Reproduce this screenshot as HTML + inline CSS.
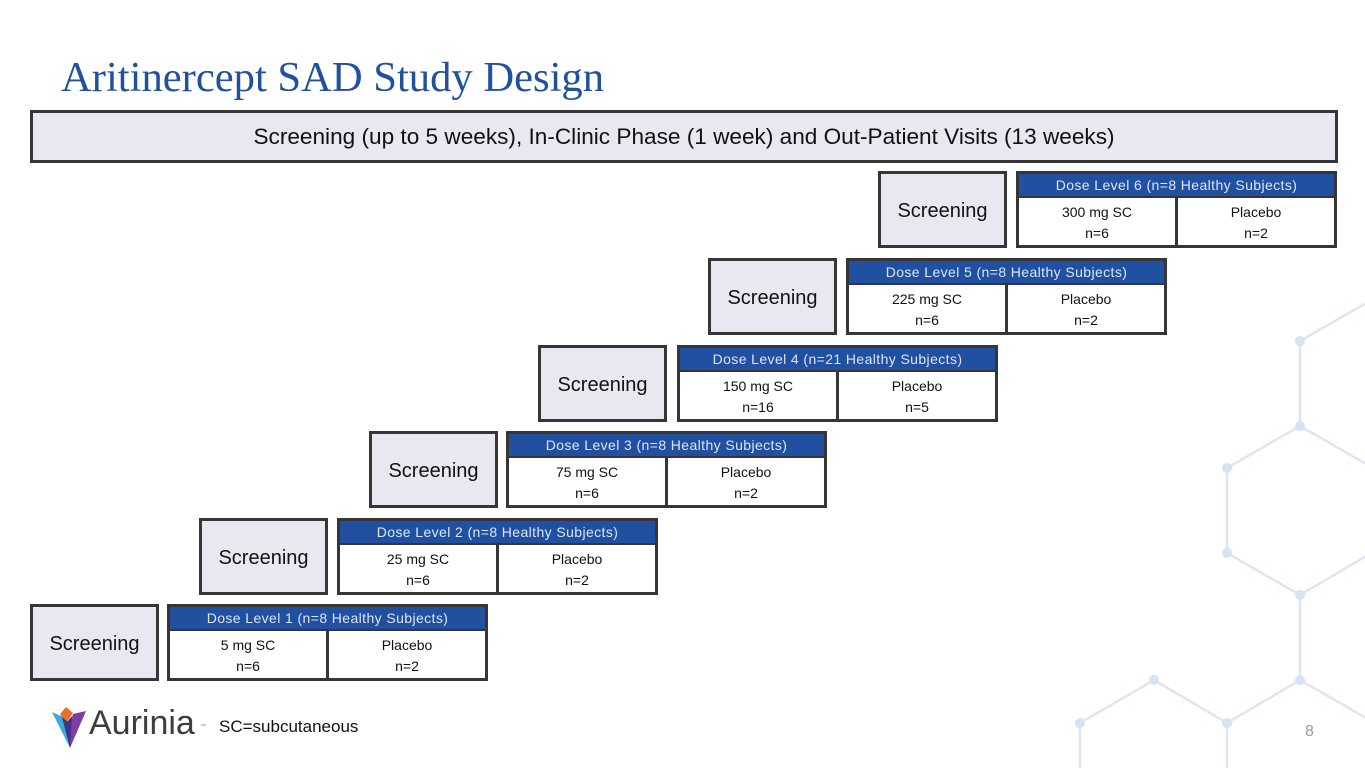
<!DOCTYPE html>
<html>
<head>
<meta charset="utf-8">
<style>
  html,body{margin:0;padding:0;}
  body{width:1365px;height:768px;position:relative;overflow:hidden;background:#fff;font-family:"Liberation Sans",Arial,sans-serif;}
  .title{position:absolute;left:61px;top:54px;font-family:"Liberation Serif","Times New Roman",serif;font-size:42.6px;color:#21509f;white-space:nowrap;line-height:48px;}
  .banner{position:absolute;left:30px;top:110px;width:1308px;height:53px;box-sizing:border-box;border:3px solid #363636;background:#e9e7ef;text-align:center;font-size:22.6px;line-height:47px;color:#111;white-space:nowrap;}
  .scr{position:absolute;width:129px;height:77px;box-sizing:border-box;border:3px solid #363636;background:#e9e7ef;text-align:center;line-height:74px;font-size:20px;color:#111;}
  .dose{position:absolute;width:321px;height:77px;box-sizing:border-box;border:3px solid #363636;background:#fff;}
  .dose .hd{height:22px;background:#2150a1;border-bottom:2px solid #363636;color:#dbe5f6;font-size:14px;letter-spacing:0.4px;text-align:center;line-height:23px;white-space:nowrap;}
  .dose .cells{display:flex;height:47px;}
  .dose .c{flex:1;text-align:center;font-size:14px;line-height:21px;color:#111;padding-top:4px;box-sizing:border-box;}
  .dose .c + .c{border-left:3px solid #363636;}
  .note{position:absolute;left:219px;top:717px;font-size:17px;color:#111;}
  .pg{position:absolute;left:1305px;top:723px;font-size:16px;color:#9a9a9a;}
  .logo{position:absolute;left:89px;top:704px;font-size:34px;color:#3d3d3d;letter-spacing:0px;}
  .tm{position:absolute;left:200px;top:724px;font-size:6px;color:#888;}
</style>
</head>
<body>
<svg width="1365" height="768" style="position:absolute;left:0;top:0" xmlns="http://www.w3.org/2000/svg">
  <g stroke="#dfe6f2" stroke-width="2.5" fill="none">
    <line x1="1300" y1="341" x2="1368" y2="302"/>
    <line x1="1300" y1="341" x2="1300" y2="426"/>
    <line x1="1300" y1="426" x2="1227" y2="468"/>
    <line x1="1300" y1="426" x2="1368" y2="465"/>
    <line x1="1227" y1="468" x2="1227" y2="553"/>
    <line x1="1227" y1="553" x2="1300" y2="595"/>
    <line x1="1300" y1="595" x2="1368" y2="555"/>
    <line x1="1300" y1="595" x2="1300" y2="680"/>
    <line x1="1300" y1="680" x2="1227" y2="723"/>
    <line x1="1300" y1="680" x2="1368" y2="719"/>
    <line x1="1227" y1="723" x2="1154" y2="680"/>
    <line x1="1154" y1="680" x2="1080" y2="723"/>
    <line x1="1227" y1="723" x2="1227" y2="770"/>
    <line x1="1080" y1="723" x2="1080" y2="770"/>
  </g>
  <g fill="#d8e2f0">
    <circle cx="1300" cy="341" r="5"/>
    <circle cx="1300" cy="426" r="5"/>
    <circle cx="1227" cy="468" r="5"/>
    <circle cx="1227" cy="553" r="5"/>
    <circle cx="1300" cy="595" r="5"/>
    <circle cx="1300" cy="680" r="5"/>
    <circle cx="1227" cy="723" r="5"/>
    <circle cx="1154" cy="680" r="5"/>
    <circle cx="1080" cy="723" r="5"/>
  </g>
  <!-- logo mark -->
  <polygon points="52,712 63,717 70,748" fill="#3fa9dc"/>
  <polygon points="60,714 66,707 73,713 66,723" fill="#e8702a"/>
  <polygon points="62,717 70,724 70,748" fill="#27407f"/>
  <polygon points="70,724 73,714 86,711 70,748" fill="#7b3fa0"/>
  <polygon points="66,723 72,716 70,748" fill="#4a2d86"/>
</svg>

<div class="title">Aritinercept SAD Study Design</div>
<div class="banner">Screening (up to 5 weeks), In-Clinic Phase (1 week) and Out-Patient Visits (13 weeks)</div>

<!-- Row 6 -->
<div class="scr" style="left:878px;top:171px;">Screening</div>
<div class="dose" style="left:1016px;top:171px;">
  <div class="hd">Dose Level 6 (n=8 Healthy Subjects)</div>
  <div class="cells"><div class="c">300 mg SC<br>n=6</div><div class="c">Placebo<br>n=2</div></div>
</div>

<!-- Row 5 -->
<div class="scr" style="left:708px;top:258px;">Screening</div>
<div class="dose" style="left:846px;top:258px;">
  <div class="hd">Dose Level 5 (n=8 Healthy Subjects)</div>
  <div class="cells"><div class="c">225 mg SC<br>n=6</div><div class="c">Placebo<br>n=2</div></div>
</div>

<!-- Row 4 -->
<div class="scr" style="left:538px;top:345px;">Screening</div>
<div class="dose" style="left:677px;top:345px;">
  <div class="hd">Dose Level 4 (n=21 Healthy Subjects)</div>
  <div class="cells"><div class="c">150 mg SC<br>n=16</div><div class="c">Placebo<br>n=5</div></div>
</div>

<!-- Row 3 -->
<div class="scr" style="left:369px;top:431px;">Screening</div>
<div class="dose" style="left:506px;top:431px;">
  <div class="hd">Dose Level 3 (n=8 Healthy Subjects)</div>
  <div class="cells"><div class="c">75 mg SC<br>n=6</div><div class="c">Placebo<br>n=2</div></div>
</div>

<!-- Row 2 -->
<div class="scr" style="left:199px;top:518px;">Screening</div>
<div class="dose" style="left:337px;top:518px;">
  <div class="hd">Dose Level 2 (n=8 Healthy Subjects)</div>
  <div class="cells"><div class="c">25 mg SC<br>n=6</div><div class="c">Placebo<br>n=2</div></div>
</div>

<!-- Row 1 -->
<div class="scr" style="left:30px;top:604px;">Screening</div>
<div class="dose" style="left:167px;top:604px;">
  <div class="hd">Dose Level 1 (n=8 Healthy Subjects)</div>
  <div class="cells"><div class="c">5 mg SC<br>n=6</div><div class="c">Placebo<br>n=2</div></div>
</div>

<div class="logo">Aurinia</div>
<div class="tm">™</div>
<div class="note">SC=subcutaneous</div>
<div class="pg">8</div>
</body>
</html>
